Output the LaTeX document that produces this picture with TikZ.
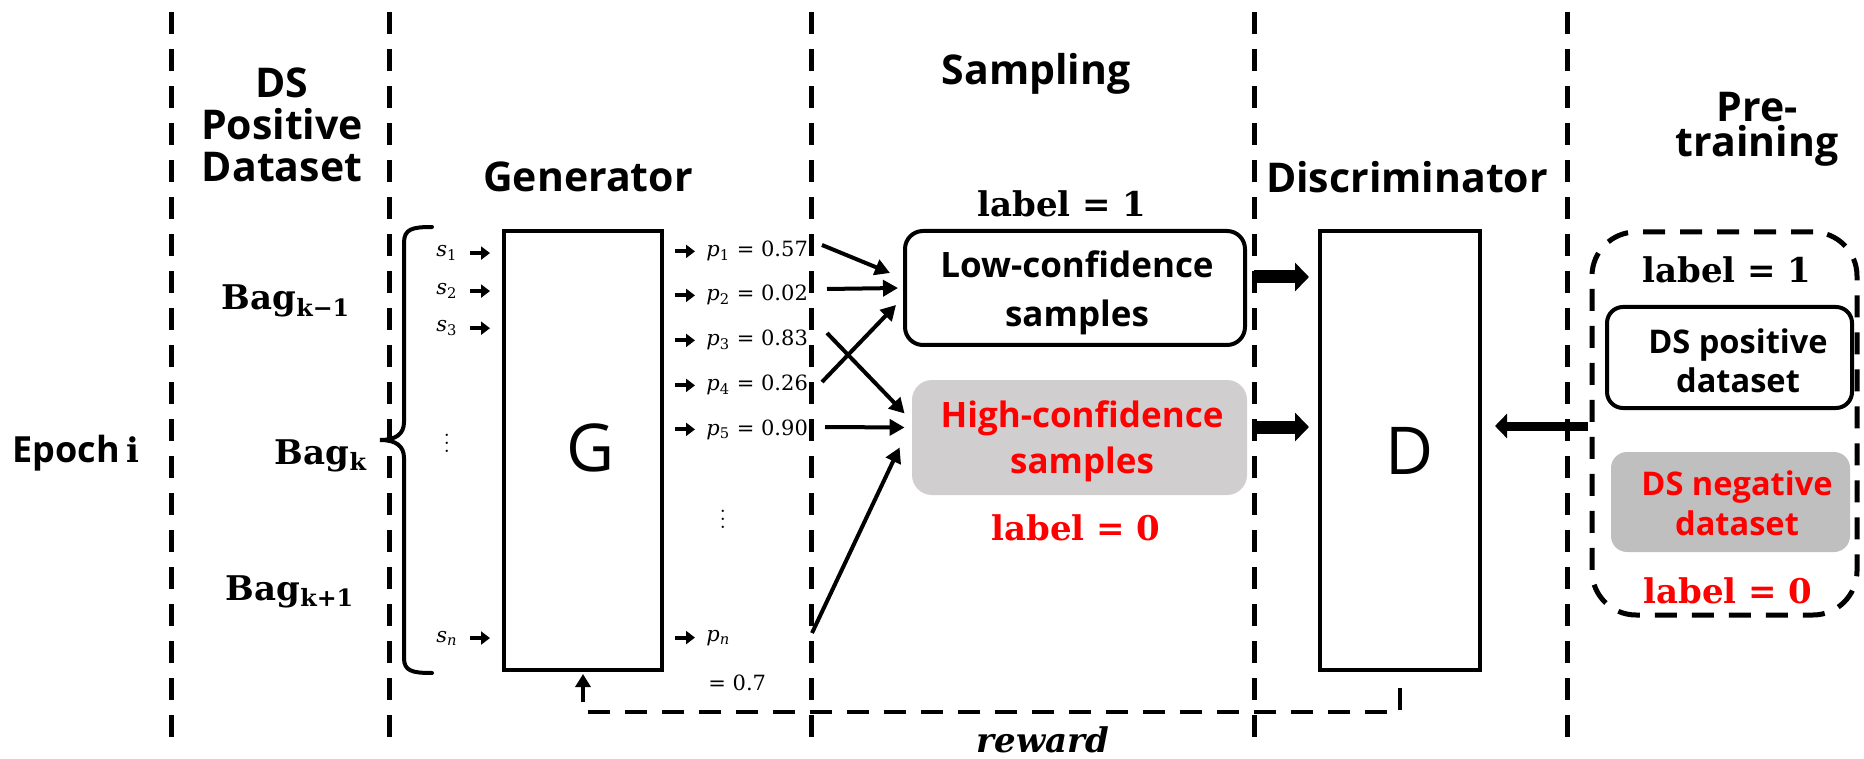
\documentclass[tikz,border=0pt]{standalone}
\usepackage{fontspec}
\usepackage{amsmath}
\newfontfamily\gill{Open Sans}
\newfontfamily\cambria{DejaVu Serif}
\usetikzlibrary{arrows.meta,calc}
\definecolor{hibox}{RGB}{208,206,206}
\definecolor{negbox}{RGB}{191,191,191}
% italic variable with an upright subscript
\newcommand\subvar[2]{{\itshape #1}\textsubscript{#2}}
\tikzset{
  sep/.style={line width=2.5pt, dash pattern=on 11pt off 7.5pt},
  block/.style={draw, line width=2pt, inner sep=0pt},
  head/.style={font=\gill\bfseries\fontsize{20.5}{24}\selectfont, anchor=base, inner sep=0pt},
  btxt/.style={font=\gill\bfseries\fontsize{17.5}{21}\selectfont, anchor=base, inner sep=0pt},
  dtxt/.style={font=\gill\bfseries\fontsize{16.3}{20}\selectfont, anchor=base, inner sep=0pt},
  lbl/.style={font=\cambria\bfseries\fontsize{17}{20}\selectfont, anchor=base, inner sep=0pt},
  bag/.style={font=\cambria\bfseries\fontsize{17}{20}\selectfont, anchor=base, inner sep=0pt},
  mth/.style={font=\cambria\fontsize{10.5}{12}\selectfont, anchor=base west, inner sep=0pt},
  dots/.style={font=\fontsize{12}{13}\selectfont, anchor=base, inner sep=0pt},
  big/.style={font=\gill\fontsize{33}{36}\selectfont, inner sep=0pt},
  smallarr/.style={line width=2pt, -{Triangle[length=4.5pt,width=6.5pt]}},
  arr/.style={line width=2pt, -{Triangle[length=7.5pt,width=8pt]}},
  fatarr/.style={line width=6.5pt, -{Triangle[length=7pt,width=14pt]}},
  backarr/.style={line width=4.5pt, -{Triangle[length=6pt,width=12pt]}},
  rewardline/.style={line width=2pt, dash pattern=on 11pt off 7.5pt, -{Triangle[length=6.5pt,width=7.5pt]}}
}
\begin{document}
\begin{tikzpicture}[x=0.5pt,y=-0.5pt]
\useasboundingbox (0,0) rectangle (1864,759);

% column separators
\foreach \xx in {171,389,811,1254,1567}
  \draw[sep] (\xx,12) -- (\xx,742);

% column headings
\node[head] (hDS)   at (282,98)  {DS};
\node[head] (hPos)  at (282,140) {Positive};
\node[head] (hData) at (282,182) {Dataset};
\node[head] (hGen)  at (588,192) {Generator};
\node[head] (hSamp) at (1036,85) {Sampling};
\node[head] (hDis)  at (1407,193) {Discriminator};
\node[head] (hPre)  at (1757,122) {Pre-};
\node[head] (hTrain) at (1757,157) {training};

% epoch and bags
\node[anchor=base, inner sep=0pt] (epoch) at (76,462)
  {{\gill\bfseries\fontsize{18}{20}\selectfont Epoch} {\cambria\bfseries\fontsize{17}{20}\selectfont i}};
\node[bag] (bagA) at (286,310) {Bag$_{\text{k−1}}$};
\node[bag] (bagB) at (321,464) {Bag$_{\text{k}}$};
\node[bag] (bagC) at (290,600) {Bag$_{\text{k+1}}$};

% brace grouping the sentences of a bag
\draw[line width=2pt, line cap=round]
  (432,227) .. controls (412,227) and (404,229) .. (404,243) -- (404,422)
  .. controls (404,434) and (396,440) .. (380,440)
  .. controls (396,440) and (404,446) .. (404,458) -- (404,658)
  .. controls (404,671) and (412,673) .. (432,673);

% generator and discriminator
\node[block, minimum width=79pt, minimum height=219.5pt] (Gbox) at (583,450.5) {};
\node[big] (Gl) at (591,448) {G};
\node[block, minimum width=80pt, minimum height=219.5pt] (Dbox) at (1400,450.5) {};
\node[big] (Dl) at (1410,451) {D};

% sentences
\node[mth, anchor=base] (s1) at (447,257) {\subvar{s}{1}};
\node[mth, anchor=base] (s2) at (447,295) {\subvar{s}{2}};
\node[mth, anchor=base] (s3) at (447,332) {\subvar{s}{3}};
\node[dots] (sd) at (447,452) {$\vdots$};
\node[mth, anchor=base] (sn) at (447,642) {\subvar{s}{\itshape n}};
\foreach \s in {s1,s2,s3,sn}
  \draw[smallarr] ([xshift=6pt]\s.east) -- ([xshift=-6pt]Gbox.west |- \s.east);

% probabilities
\node[mth] (p1) at (706,257) {\subvar{p}{1} = 0.57};
\node[mth] (p2) at (706,301) {\subvar{p}{2} = 0.02};
\node[mth] (p3) at (706,346) {\subvar{p}{3} = 0.83};
\node[mth] (p4) at (706,391) {\subvar{p}{4} = 0.26};
\node[mth] (p5) at (706,435) {\subvar{p}{5} = 0.90};
\node[dots] (pd) at (723,528) {$\vdots$};
\node[mth] (pn) at (706,641) {\subvar{p}{\itshape n}};
\node[mth] (pv) at (708,690) {= 0.7};
\foreach \p in {p1,p2,p3,p4,p5,pn}
  \draw[smallarr] ([xshift=-15.5pt]\p.west) -- ([xshift=-5.5pt]\p.west);

% sampled groups
\node[lbl] (lab1) at (1062,217) {label = 1};
\node[block, rounded corners=9pt, minimum width=170pt, minimum height=57pt] (low) at (1075,288) {};
\node[btxt] (lowA) at (1077,278) {Low-confidence};
\node[btxt] (lowB) at (1077,327) {samples};
\node[fill=hibox, rounded corners=10pt, inner sep=0pt, minimum width=167.5pt, minimum height=57.5pt] (high) at (1079.5,437.5) {};
\node[btxt, text=red] (highA) at (1082,427) {High-confidence};
\node[btxt, text=red] (highB) at (1082,473) {samples};
\node[lbl, text=red] (lab0) at (1076,540) {label = 0};

% routing of the probabilities
\coordinate (o1) at (822,245);
\coordinate (o2) at (827,289);
\coordinate (o3) at (827,333);
\coordinate (o4) at (822,382);
\coordinate (o5) at (825,427);
\coordinate (o6) at (812,633);
\draw[arr] (o1) -- ([shift={(-6.5pt,7.5pt)}]low.west);
\draw[arr] (o2) -- ([xshift=-2.5pt]low.west);
\draw[arr] (o4) -- ([shift={(-3.5pt,-8.5pt)}]low.west);
\draw[arr] (o3) -- ([shift={(-3.5pt,12pt)}]high.west);
\draw[arr] (o5) -- ([shift={(-3.5pt,5pt)}]high.west);
\draw[arr] (o6) -- ([shift={(-6pt,-5pt)}]high.west);

% into the discriminator
\coordinate (t1) at (1254,277);
\coordinate (t2) at (1254,427);
\draw[fatarr, shorten >=4.5pt] (t1) -- (Dbox.west |- t1);
\draw[fatarr, shorten >=4.5pt] (t2) -- (Dbox.west |- t2);

% pre-training data
\node[draw, sep, rounded corners=22pt, minimum width=132.5pt, minimum height=191.5pt, inner sep=0pt] (pre) at (1724.5,423.5) {};
\node[lbl] (plab1) at (1727,283) {label = 1};
\node[block, rounded corners=8pt, minimum width=122.5pt, minimum height=50.5pt] (pos) at (1729.5,357.5) {};
\node[dtxt] (posA) at (1738,353) {DS positive};
\node[dtxt] (posB) at (1738,393) {dataset};
\node[fill=negbox, rounded corners=8pt, inner sep=0pt, minimum width=119.5pt, minimum height=50pt] (neg) at (1730.5,502) {};
\node[dtxt, text=red] (negA) at (1737,495) {DS negative};
\node[dtxt, text=red] (negB) at (1737,535) {dataset};
\node[lbl, text=red] (plab0) at (1728,603) {label = 0};
\coordinate (rin) at ([shift={(-1pt,-1.25pt)}]pre.west);
\draw[backarr, shorten >=6.5pt] (rin) -- (Dbox.east |- rin);

% reward fed back to the generator
\draw[rewardline] ([yshift=-8pt]Dbox.south) -- ++(0,24) -| ([yshift=-1pt]Gbox.south);
\node[anchor=base, inner sep=0pt, font=\cambria\bfseries\itshape\fontsize{17}{20}\selectfont] (rw) at (1043,752) {reward};
\end{tikzpicture}
\end{document}
